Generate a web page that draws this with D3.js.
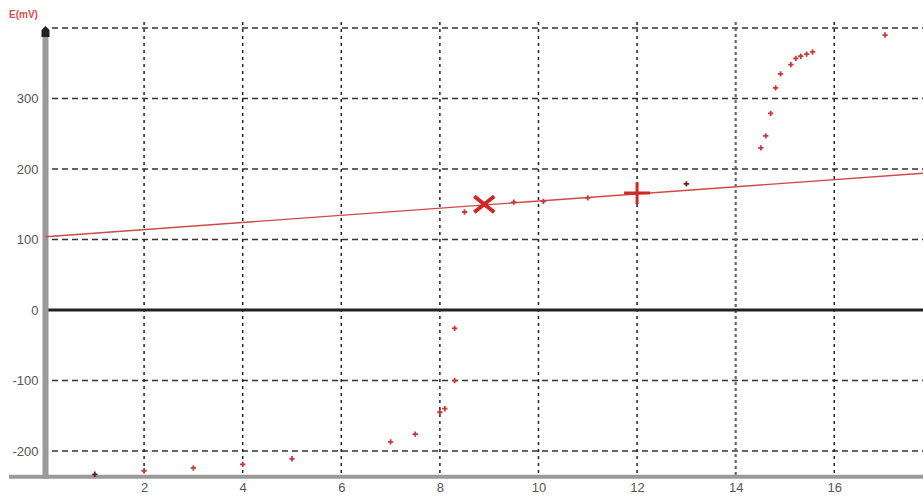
<!DOCTYPE html>
<html>
<head>
<meta charset="utf-8">
<script src="https://cdn.jsdelivr.net/npm/d3@7"></script>
<style>
body { margin: 0; background: #fff; }
.tick text { font-family: "Liberation Sans", "DejaVu Sans", sans-serif; font-size: 13px; fill: #555; }
</style>
</head>
<body>
<div id="chart"></div>
<script>
// measured points (volume, mV)
var volume = [1, 2, 3, 4, 5, 7, 7.5, 8, 8.1, 8.3, 8.3, 8.5, 9.5, 10.1, 11, 13,
    14.51, 14.61, 14.71, 14.81, 14.91, 15.12, 15.22, 15.32, 15.44, 15.56, 17.03];
var potential = [-233, -228, -224, -219, -211, -187, -176, -145, -140, -100, -26, 139, 153, 154, 159, 179,
    230, 247, 279, 315, 335, 348, 357, 360, 363, 366, 390];

// fitted line end points
var lineX = [0, 17.8];
var lineY = [104, 194];

// marked points: X and +
var markX = [8.9, 12];
var markY = [150, 166];

var xTicks = [2, 4, 6, 8, 10, 12, 14, 16];
var yTicks = [-200, -100, 0, 100, 200, 300];
var yGrid = [-200, -100, 100, 200, 300, 400];

var width = 923, height = 497;

var svg = d3.select("#chart").append("svg")
    .attr("width", width)
    .attr("height", height);

var x = d3.scaleLinear().domain([0, 17.8]).range([45.5, 923]);
var y = d3.scaleLinear().domain([-235, 400]).range([475.7, 28]);

//grid
svg.append("g").selectAll("line")
    .data(yGrid)
    .enter().append("line")
    .attr("x1", 52).attr("x2", width)
    .attr("y1", function(d){ return y(d); })
    .attr("y2", function(d){ return y(d); })
    .attr("stroke", "#333")
    .attr("stroke-width", 1.6)
    .attr("stroke-dasharray", "6,4");

svg.append("g").selectAll("line")
    .data(xTicks)
    .enter().append("line")
    .attr("x1", function(d){ return x(d); })
    .attr("x2", function(d){ return x(d); })
    .attr("y1", 22).attr("y2", y(-235))
    .attr("stroke", function(d){ return d == 14 ? "#666" : "#222"; })
    .attr("stroke-width", function(d){ return d == 14 ? 2.2 : 1.5; })
    .attr("stroke-dasharray", function(d){ return d == 14 ? "3,3" : "3,4"; });

// zero line
svg.append("line")
    .attr("x1", x(0)).attr("x2", width)
    .attr("y1", y(0)).attr("y2", y(0))
    .attr("stroke", "#222")
    .attr("stroke-width", 3);

// x axis (gray bar)
svg.append("line")
    .attr("x1", 9).attr("x2", width)
    .attr("y1", y(-235) + 1).attr("y2", y(-235) + 1)
    .attr("stroke", "#9a9a9a")
    .attr("stroke-width", 4);

var xAxis = d3.axisBottom(x).tickValues(xTicks).tickSize(0).tickPadding(7);
svg.append("g")
    .attr("transform", "translate(0," + y(-235) + ")")
    .call(xAxis)
    .call(function(g){ g.select(".domain").remove(); });

// y axis (gray bar with arrow)
svg.append("line")
    .attr("x1", x(0)).attr("x2", x(0))
    .attr("y1", y(-235) + 3).attr("y2", 34)
    .attr("stroke", "#9a9a9a")
    .attr("stroke-width", 6);

svg.append("path")
    .attr("d", "M" + (x(0) - 4) + ",37 L" + (x(0) - 4) + ",30 L" + x(0) + ",26 L" + (x(0) + 4) + ",30 L" + (x(0) + 4) + ",37 Z")
    .attr("fill", "#222");

var yAxis = d3.axisLeft(y).tickValues(yTicks).tickSize(0).tickPadding(5)
    .tickFormat(function(d){ return d; });
svg.append("g")
    .attr("transform", "translate(" + (x(0) - 2) + ",0)")
    .call(yAxis)
    .call(function(g){ g.select(".domain").remove(); });

svg.append("text")
    .attr("x", 9)
    .attr("y", 18)
    .attr("font-family", "Liberation Sans, sans-serif")
    .attr("font-size", "10px")
    .attr("font-weight", "bold")
    .attr("fill", "#d05050")
    .text("E(mV)");

// fitted line
svg.append("line")
    .attr("x1", x(lineX[0])).attr("y1", y(lineY[0]))
    .attr("x2", x(lineX[1])).attr("y2", y(lineY[1]))
    .attr("stroke", "#d04848")
    .attr("stroke-width", 1.4);

// points
var cross = d3.symbol().type(d3.symbolCross).size(16);
svg.append("g").selectAll("path")
    .data(volume)
    .enter().append("path")
    .attr("transform", function(d, i){ return "translate(" + x(d) + "," + y(potential[i]) + ")"; })
    .attr("d", cross)
    .attr("fill", function(d, i){ return (d == 1 || d == 13) ? "#6a2020" : "#c83a3a"; });

// X marker
var mx = x(markX[0]), my = y(markY[0]);
svg.append("path")
    .attr("d", "M" + (mx - 10) + "," + (my - 8) + " L" + (mx + 10) + "," + (my + 8) +
        " M" + (mx + 10) + "," + (my - 8) + " L" + (mx - 10) + "," + (my + 8))
    .attr("stroke", "#d02828")
    .attr("stroke-width", 4)
    .attr("fill", "none");

// + marker
var px = x(markX[1]), py = y(markY[1]);
svg.append("path")
    .attr("d", "M" + (px - 13) + "," + py + " L" + (px + 13) + "," + py +
        " M" + px + "," + (py - 11) + " L" + px + "," + (py + 11))
    .attr("stroke", "#d02828")
    .attr("stroke-width", 3)
    .attr("fill", "none");
</script>
</body>
</html>
